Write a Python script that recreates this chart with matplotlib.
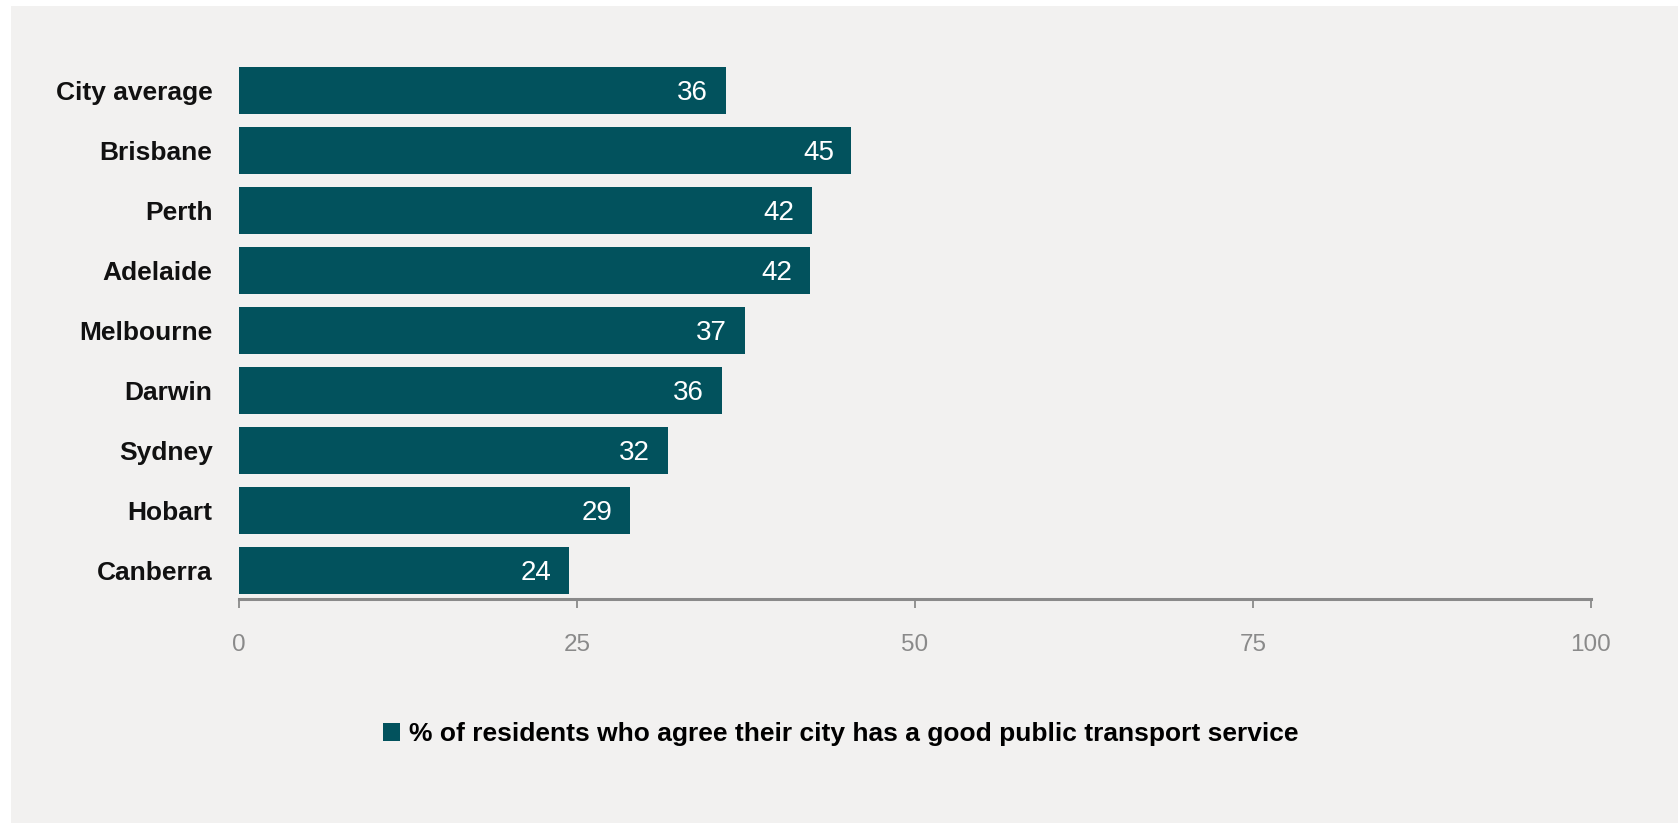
import matplotlib.pyplot as plt
from matplotlib.patches import Rectangle

cities = ["City average", "Brisbane", "Perth", "Adelaide", "Melbourne",
          "Darwin", "Sydney", "Hobart", "Canberra"]
agree_pct = [36.0, 45.3, 42.4, 42.2, 37.4, 35.7, 31.7, 28.9, 24.4]
value_labels = ["36", "45", "42", "42", "37", "36", "32", "29", "24"]
x_ticks = [0, 25, 50, 75, 100]
legend_label = "% of residents who agree their city has a good public transport service"

BAR_COLOR = "#02525d"
PANEL_COLOR = "#f2f1f0"
GREY = "#8a8a8a"

plt.rcParams['font.family'] = ['Liberation Sans', 'DejaVu Sans']

W, H = 1681, 823
fig = plt.figure(figsize=(W / 100, H / 100), dpi=100, facecolor="white")

# light grey panel behind everything
fig.patches.append(Rectangle((11 / W, 0), (1678 - 11) / W, 1 - 6 / H,
                             transform=fig.transFigure, facecolor=PANEL_COLOR,
                             edgecolor="none", zorder=-5))

left, right = 239 / W, 1591 / W
bottom, top = 1 - 599 / H, 1 - 60.5 / H
ax = fig.add_axes([left, bottom, right - left, top - bottom])
ax.set_zorder(1)
ax.set_facecolor("none")

ypos = list(range(len(cities)))
bars = ax.barh(ypos, agree_pct, height=0.79, color=BAR_COLOR,
               label=legend_label, zorder=2)

# value labels sit inside the bar ends
for y, v, lab in zip(ypos, agree_pct, value_labels):
    ax.text(v - 1.3, y + 0.05, lab, ha="right", va="center", color="white",
            fontsize=20, zorder=3)

ax.set_xlim(0, 100)
ax.set_ylim(8.475, -0.5)
ax.set_yticks(ypos)
ax.set_yticklabels(cities, fontsize=19, fontweight="bold", color="#111111")
ax.set_xticks(x_ticks)
ax.set_xticklabels([str(t) for t in x_ticks], fontsize=17.5, color=GREY)

for s in ["top", "right", "left"]:
    ax.spines[s].set_visible(False)
ax.spines["bottom"].set_color(GREY)
ax.spines["bottom"].set_linewidth(2.2)
ax.tick_params(axis="y", length=0, pad=19)
ax.tick_params(axis="x", length=6.5, width=1.3, color=GREY, pad=19)

leg = fig.legend(handles=[bars], labels=[legend_label], loc="center",
                 bbox_to_anchor=(0.5, 1 - 734 / H), frameon=False,
                 handlelength=0.65, handleheight=0.7, handletextpad=0.35,
                 prop={"weight": "bold", "size": 19})
leg.set_zorder(2)

fig.savefig("out.png", dpi=100, facecolor="white")
